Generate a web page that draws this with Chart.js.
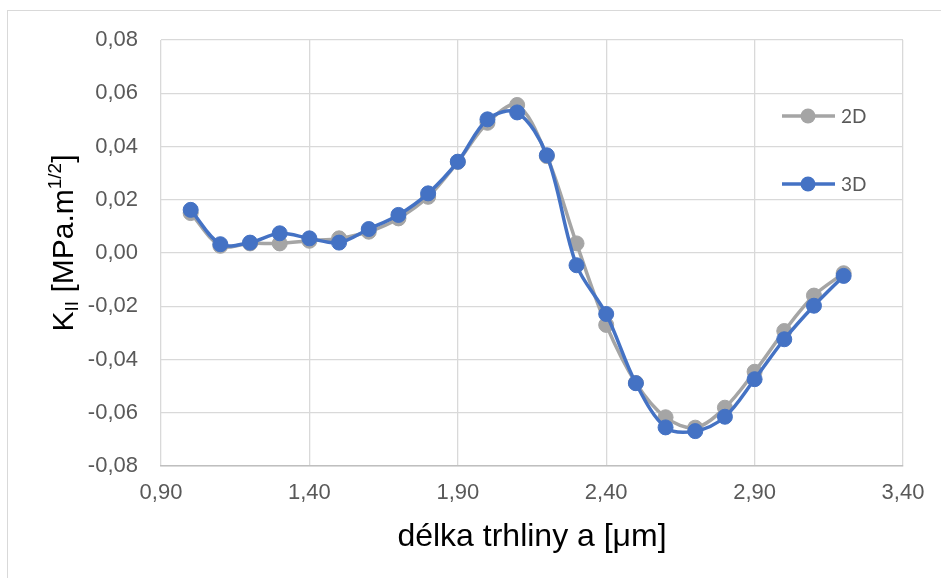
<!DOCTYPE html>
<html>
<head>
<meta charset="utf-8">
<script src="https://cdn.jsdelivr.net/npm/chart.js@4/dist/chart.umd.min.js"></script>
<style>
html,body{margin:0;padding:0;background:#fff;}
#wrap{width:941px;height:578px;}
</style>
</head>
<body>
<div id="wrap"><canvas id="c" width="941" height="578"></canvas></div>
<script>
// ---- data ----
const crackLength = [1.0, 1.1, 1.2, 1.3, 1.4, 1.5, 1.6, 1.7, 1.8, 1.9, 2.0, 2.1, 2.2, 2.3, 2.4, 2.5, 2.6, 2.7, 2.8, 2.9, 3.0, 3.1, 3.2];
const values2D = [0.0150, 0.0027, 0.0036, 0.0036, 0.0046, 0.0055, 0.0080, 0.0130, 0.0211, 0.0342, 0.0489, 0.0556, 0.0364, 0.0036, -0.0270, -0.0488, -0.0617, -0.0656, -0.0581, -0.0446, -0.0293, -0.0160, -0.0076];
const values3D = [0.0162, 0.0033, 0.0039, 0.0074, 0.0055, 0.0039, 0.0090, 0.0143, 0.0224, 0.0343, 0.0502, 0.0528, 0.0367, -0.0046, -0.0229, -0.0489, -0.0655, -0.0669, -0.0615, -0.0474, -0.0324, -0.0198, -0.0086];
const seriesNames = ['2D', '3D'];
const xTicks = [0.90, 1.40, 1.90, 2.40, 2.90, 3.40];
const yTicks = [-0.08, -0.06, -0.04, -0.02, 0.00, 0.02, 0.04, 0.06, 0.08];
const xTitle = 'délka trhliny a [μm]';
const yTitleParts = [['K', 'main'], ['II', 'sub'], [' [MPa.m', 'main'], ['1/2', 'sup'], [']', 'main']];

const COL2D = '#A5A5A5';
const COL3D = '#4472C4';
const fmt = v => (Math.abs(v) < 1e-9 ? 0 : v).toFixed(2).replace('.', ',');
const toPts = ys => crackLength.map((x, i) => ({x: x, y: ys[i]}));

const framePlugin = {
  id: 'frame',
  beforeDraw(chart) {
    const ctx = chart.ctx;
    ctx.save();
    ctx.fillStyle = '#ffffff';
    ctx.fillRect(0, 0, chart.width, chart.height);
    ctx.strokeStyle = '#d9d9d9';
    ctx.lineWidth = 1;
    ctx.strokeRect(7.5, 10.5, chart.width + 10, chart.height + 10);
    ctx.restore();
  }
};

const yTitlePlugin = {
  id: 'yTitle',
  afterDraw(chart) {
    const ctx = chart.ctx;
    const sizes = {main: 30, sub: 19, sup: 19};
    const shift = {main: 0, sub: 5, sup: -12};
    ctx.save();
    let total = 0;
    yTitleParts.forEach(([t, k]) => {
      ctx.font = sizes[k] + 'px "Liberation Sans", Arial, sans-serif';
      total += ctx.measureText(t).width;
    });
    const cx = 73, cy = 243;
    ctx.translate(cx, cy);
    ctx.rotate(-Math.PI / 2);
    ctx.fillStyle = '#000000';
    ctx.textBaseline = 'alphabetic';
    ctx.textAlign = 'left';
    let x = -total / 2;
    yTitleParts.forEach(([t, k]) => {
      ctx.font = sizes[k] + 'px "Liberation Sans", Arial, sans-serif';
      ctx.fillText(t, x, shift[k]);
      x += ctx.measureText(t).width;
    });
    ctx.restore();
  }
};

const legendPlugin = {
  id: 'customLegend',
  afterDraw(chart) {
    const ctx = chart.ctx;
    ctx.save();
    const rows = [116, 184];
    chart.data.datasets.forEach((ds, i) => {
      const y = rows[i];
      ctx.strokeStyle = ds.borderColor;
      ctx.lineWidth = 3.5;
      ctx.beginPath();
      ctx.moveTo(782, y);
      ctx.lineTo(835, y);
      ctx.stroke();
      ctx.fillStyle = ds.borderColor;
      ctx.beginPath();
      ctx.arc(808, y, 7.5, 0, Math.PI * 2);
      ctx.fill();
      ctx.fillStyle = '#595959';
      ctx.font = '19px Lato, "Liberation Sans", sans-serif';
      ctx.textBaseline = 'middle';
      ctx.textAlign = 'left';
      ctx.fillText(ds.label, 841, y + 1);
    });
    ctx.restore();
  }
};

const tickFont = {family: '"Liberation Sans", Arial, sans-serif', size: 22};

new Chart(document.getElementById('c'), {
  type: 'scatter',
  data: {
    datasets: [
      {
        label: seriesNames[0], data: toPts(values2D), showLine: true,
        borderColor: COL2D, backgroundColor: COL2D, pointBackgroundColor: COL2D, pointBorderColor: COL2D,
        borderWidth: 3.5, pointRadius: 7.5, pointBorderWidth: 1, tension: 0.33, order: 1
      },
      {
        label: seriesNames[1], data: toPts(values3D), showLine: true,
        borderColor: COL3D, backgroundColor: COL3D, pointBackgroundColor: COL3D, pointBorderColor: COL3D,
        borderWidth: 3.5, pointRadius: 7.5, pointBorderWidth: 1, tension: 0.33, order: 0
      }
    ]
  },
  options: {
    responsive: false,
    devicePixelRatio: 1,
    animation: false,
    layout: {padding: {left: 0, top: 40, right: 38, bottom: 0}},
    plugins: {legend: {display: false}, tooltip: {enabled: false}},
    scales: {
      x: {
        type: 'linear', min: 0.9, max: 3.4,
        afterBuildTicks: s => { s.ticks = xTicks.map(v => ({value: v})); },
        afterFit: s => { s.height = 112; },
        ticks: {callback: v => fmt(v), color: '#595959', font: tickFont, padding: 14, maxRotation: 0, autoSkip: false},
        grid: {color: '#d9d9d9', lineWidth: 1.3, drawTicks: false},
        border: {display: true, color: '#bfbfbf', width: 1.5},
        title: {display: true, text: xTitle, color: '#000000',
                font: {family: '"Liberation Sans", Arial, sans-serif', size: 32},
                padding: {top: 0, bottom: 22}}
      },
      y: {
        type: 'linear', min: -0.08, max: 0.08,
        afterBuildTicks: s => { s.ticks = yTicks.map(v => ({value: v})); },
        afterFit: s => { s.width = 161; },
        ticks: {callback: v => fmt(v), color: '#595959', font: tickFont, padding: 23, autoSkip: false},
        grid: {color: '#d9d9d9', lineWidth: 1.3, drawTicks: false},
        border: {display: false}
      }
    }
  },
  plugins: [framePlugin, yTitlePlugin, legendPlugin]
});
</script>
</body>
</html>
